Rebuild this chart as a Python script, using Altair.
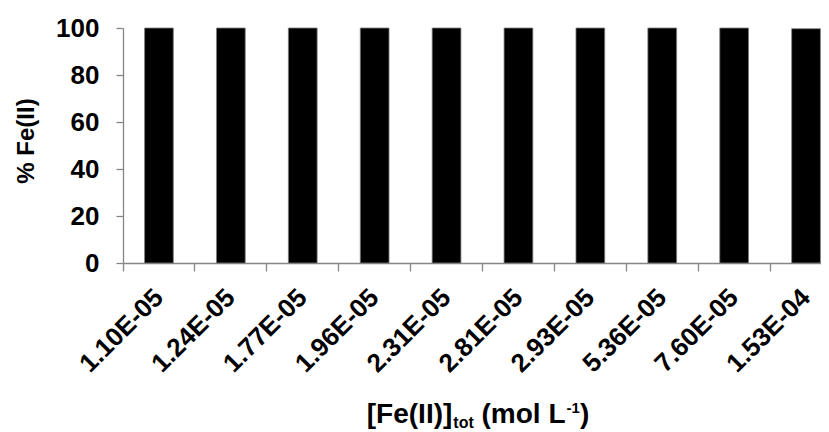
import altair as alt
import pandas as pd

# ---- data ----
concentrations = ["1.10E-05", "1.24E-05", "1.77E-05", "1.96E-05", "2.31E-05",
                  "2.81E-05", "2.93E-05", "5.36E-05", "7.60E-05", "1.53E-04"]
pct_fe2 = [100, 100, 100, 100, 100, 100, 100, 100, 100, 99.7]
y_ticks = [0, 20, 40, 60, 80, 100]

FONT = "Liberation Sans"
AXIS_GREY = "#868686"

df = pd.DataFrame({"conc": concentrations, "pct": pct_fe2})

PLOT_W = 698      # visible plot width (view)
RANGE_W = 719     # band range (last boundary lies beyond the page edge)
PLOT_H = 235

bars = alt.Chart(df).mark_bar(
    color="black", stroke="#7f7f7f", strokeWidth=0.8,
    width=alt.RelativeBandSize(0.4)
).encode(
    x=alt.X("conc:N", sort=concentrations,
            scale=alt.Scale(domain=concentrations, range=[0, RANGE_W],
                            paddingInner=0, paddingOuter=0),
            axis=alt.Axis(title=None, bandPosition=0, labelAngle=-45,
                          labelAlign="right", labelBaseline="middle",
                          labelFont=FONT, labelFontSize=26, labelFontWeight="bold",
                          labelColor="black", labelPadding=22, tickSize=8,
                          tickColor=AXIS_GREY, domainColor=AXIS_GREY,
                          tickWidth=1.3, domainWidth=1.3, grid=False)),
    y=alt.Y("pct:Q",
            scale=alt.Scale(domain=[0, 100], nice=False),
            axis=alt.Axis(values=y_ticks, title=None, grid=False,
                          labelFont=FONT, labelFontSize=26, labelFontWeight="bold",
                          labelColor="black", labelPadding=17, tickSize=7,
                          tickColor=AXIS_GREY, domainColor=AXIS_GREY,
                          tickWidth=1.3, domainWidth=1.3)),
)

# ---- y-axis title ----
ytitle = alt.Chart(pd.DataFrame({"t": ["% Fe(II)"]})).mark_text(
    font=FONT, fontSize=24, fontWeight="bold", color="black",
    angle=270, align="center", baseline="middle"
).encode(text="t:N", x=alt.value(-96), y=alt.value(113))

# ---- x-axis title with subscript / superscript as separate text pieces ----
# Arial/Liberation Sans Bold advance widths (per em)
W = {"[": .333, "F": .611, "e": .556, "(": .333, "I": .278, ")": .333, "]": .333,
     " ": .278, "m": .889, "o": .611, "l": .278, "L": .611, "-": .333, "1": .556,
     "t": .333}


def width(s, size):
    return sum(W[c] for c in s) * size


BIG, SUB, SUP = 28, 16, 15
# (text, size, baseline shift, extra gap before piece)
pieces = [("[Fe(II)]", BIG, 0, 0), ("tot", SUB, 5, 1), ("(mol L", BIG, 0, W[" "] * BIG),
          ("-1", SUP, -10, 1), (")", BIG, 0, 0)]
total = sum(width(t, s) + g for t, s, _, g in pieces)
x0 = 355 - total / 2
base_y = 395

layers = [bars, ytitle]
xc = x0
for txt, size, dy, gap in pieces:
    xc += gap
    layers.append(
        alt.Chart(pd.DataFrame({"t": [txt]})).mark_text(
            font=FONT, fontSize=size, fontWeight="bold", color="black",
            align="left", baseline="alphabetic"
        ).encode(text="t:N", x=alt.value(xc), y=alt.value(base_y + dy))
    )
    xc += width(txt, size)

chart = alt.layer(*layers).properties(
    width=PLOT_W, height=PLOT_H,
    autosize=alt.AutoSizeParams(type="none"),
    padding={"left": 115, "top": 20, "right": 0, "bottom": 169},
).configure_view(stroke=None)

chart.save("out.html", embed_options={"renderer": "svg", "actions": False})
